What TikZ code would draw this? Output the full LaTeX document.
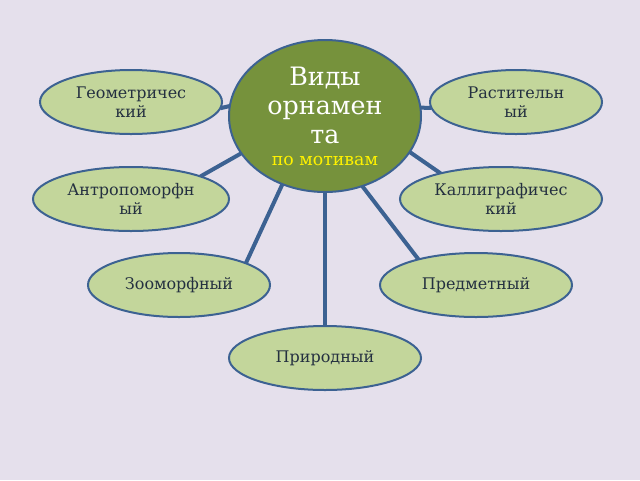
\documentclass[tikz,border=0pt]{standalone}
\usepackage{fontspec}
\setmainfont{DejaVu Serif}
\usepackage{color}
\usepackage{tikz}
\usetikzlibrary{shapes}
\usetikzlibrary{backgrounds}

\definecolor{fonLav}{RGB}{229,224,236}
\definecolor{zelTemn}{RGB}{118,146,60}
\definecolor{zelSvet}{RGB}{195,214,155}
\definecolor{sinLin}{RGB}{60,98,146}
\definecolor{tekstT}{RGB}{36,48,64}

\begin{document}
\begin{tikzpicture}[x=0.75pt,y=0.75pt,yscale=-1,xscale=1,
  vid/.style={ellipse,draw=sinLin,line width=1.5pt,fill=zelSvet,inner sep=0pt,outer sep=0pt,
    minimum height=48pt,text=tekstT,align=center,font=\fontsize{12}{14.4}\selectfont},
  centr/.style={ellipse,draw=sinLin,line width=1.5pt,fill=zelTemn,inner sep=0pt,outer sep=0pt,
    minimum width=144pt,minimum height=114pt,text=white,align=center,font=\fontsize{19}{22}\selectfont},
  luch/.style={draw=sinLin,line width=3pt}]
\useasboundingbox (0,0) rectangle (640,480);
% center
\node [centr] (vidy) at (325,116) {Виды\\орнамен\\та\\[-6pt]\color{yellow}\fontsize{13}{15}\selectfont по мотивам};
% types
\node [vid,minimum width=136.5pt] (geom) at (131,102) {Геометричес\\кий};
\node [vid,minimum width=129pt] (rast) at (516,102) {Растительн\\ый};
\node [vid,minimum width=147pt] (antr) at (131,199) {Антропоморфн\\ый};
\node [vid,minimum width=151.5pt] (kall) at (501,199) {Каллиграфичес\\кий};
\node [vid,minimum width=136.5pt] (zoo) at (179,285) {Зооморфный};
\node [vid,minimum width=144pt] (pred) at (476,285) {Предметный};
\node [vid,minimum width=144pt] (prir) at (325,358) {Природный};
% rays
\begin{scope}[on background layer]
\fill [fonLav] (0,0) rectangle (640,480);
\draw [luch] (vidy.174) -- (geom.-4);
\draw [luch] (vidy.5) -- (rast.184);
\draw [luch] (vidy.204) -- (antr.18);
\draw [luch] (vidy.337) -- (kall.157);
\draw [luch] (vidy.238) -- (zoo.18);
\draw [luch] (vidy.298) -- (pred.156);
\draw [luch] (vidy.south) -- (prir.north);
\end{scope}
\end{tikzpicture}
\end{document}
